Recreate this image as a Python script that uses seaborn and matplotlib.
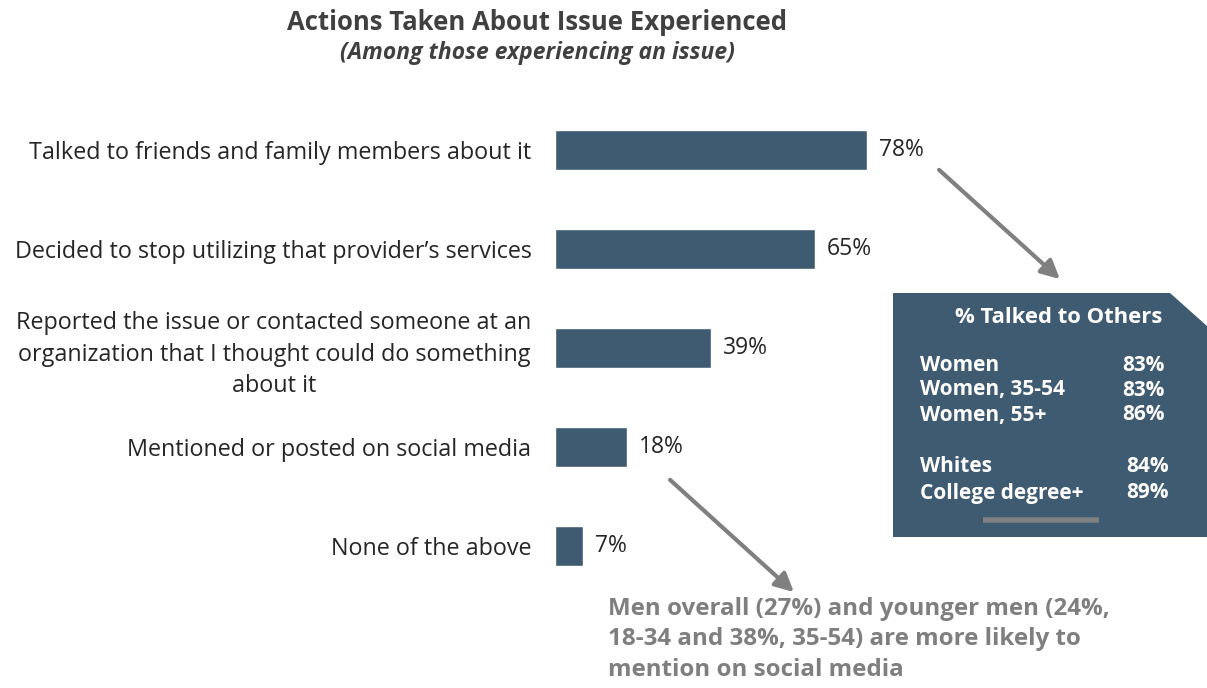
import matplotlib
matplotlib.use("Agg")
import matplotlib.pyplot as plt
import seaborn as sns
import pandas as pd
from matplotlib.patches import Polygon, FancyArrowPatch
from matplotlib.lines import Line2D

# Survey results
actions = [
    "Talked to friends and family members about it",
    "Decided to stop utilizing that provider\u2019s services",
    "Reported the issue or contacted someone at an\norganization that I thought could do something\nabout it",
    "Mentioned or posted on social media",
    "None of the above",
]
shares = [78, 65, 39, 18, 7]

# Breakdown for the call-out box
box_groups = ["Women", "Women, 35-54", "Women, 55+", "Whites", "College degree+"]
box_values = [83, 83, 86, 84, 89]

BAR = "#3f5b71"
DARK = "#404040"
GREY = "#808080"

sns.set_theme(style="white")
plt.rcParams["font.family"] = ["Open Sans", "DejaVu Sans"]

df = pd.DataFrame({"action": actions, "share": shares})

fig = plt.figure(figsize=(12.07, 6.88), dpi=100)
W, H = 1207, 688


def fx(px):
    return px / W


def fy(py):
    return 1 - py / H


ax = fig.add_axes([fx(555), fy(595.5), fx(400), 495 / H])
sns.barplot(data=df, x="share", y="action", color=BAR, width=0.4,
            saturation=1, ax=ax, orient="h")
ax.set_xlim(0, 100)
ax.set_xlabel("")
ax.set_ylabel("")
ax.set_xticks([])
for s in ax.spines.values():
    s.set_visible(False)
ax.tick_params(axis="y", length=0, pad=17)
ax.set_yticks(range(len(actions)))
ax.set_yticklabels(actions, fontsize=16.8, color="#262626",
                   multialignment="center", linespacing=1.4)

for i, v in enumerate(shares):
    ax.text(v + 3, i, f"{v}%", va="center", ha="left", fontsize=16.5,
            color="#262626")

# Titles
fig.text(fx(537), fy(22), "Actions Taken About Issue Experienced", ha="center",
         va="center", fontsize=18.5, fontweight="bold", color=DARK)
fig.text(fx(537), fy(53), "(Among those experiencing an issue)", ha="center",
         va="center", fontsize=16.5, fontweight="bold", style="italic", color=DARK)

# Call-out box with clipped top-right corner
box = Polygon([(fx(893), fy(293)), (fx(1170), fy(293)), (fx(1207), fy(326)),
               (fx(1207), fy(537)), (fx(893), fy(537))],
              closed=True, transform=fig.transFigure, facecolor=BAR,
              edgecolor="none")
fig.patches.append(box)
fig.text(fx(1059), fy(318), "% Talked to Others", ha="center", va="center",
         fontsize=15.8, fontweight="bold", color="white")
rows_y = [366, 390, 415, 467, 493]
vals_x = [1165, 1165, 1165, 1169, 1169]
for g, v, yy, xx in zip(box_groups, box_values, rows_y, vals_x):
    fig.text(fx(920), fy(yy), g, ha="left", va="center", fontsize=15,
             fontweight="bold", color="white")
    fig.text(fx(xx), fy(yy), f"{v}%", ha="right", va="center", fontsize=15,
             fontweight="bold", color="white")
fig.lines.append(Line2D([fx(983), fx(1099)], [fy(520), fy(520)],
                        transform=fig.transFigure, color=GREY, lw=4,
                        solid_capstyle="butt"))

# Arrows
for (x0, y0), (x1, y1) in [((937, 168), (1062, 281)), ((668, 478), (796, 594))]:
    arr = FancyArrowPatch((fx(x0), fy(y0)), (fx(x1), fy(y1)),
                          transform=fig.transFigure, arrowstyle="-|>",
                          mutation_scale=28, color=GREY, lw=3)
    fig.patches.append(arr)

# Note on social media
fig.text(fx(608), fy(597),
         "Men overall (27%) and younger men (24%,\n18-34 and 38%, 35-54) are more likely to\nmention on social media",
         ha="left", va="top", fontsize=17.4, fontweight="bold", color="#7f7f7f",
         linespacing=1.36)

fig.savefig("out.png", dpi=100)
